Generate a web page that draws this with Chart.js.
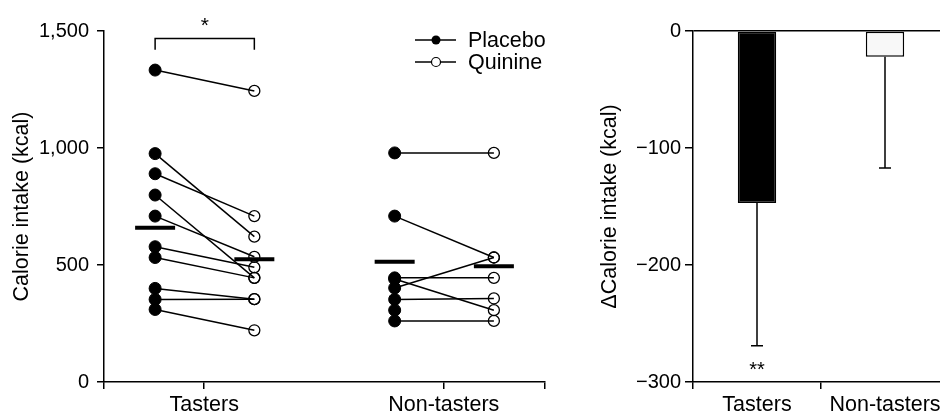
<!DOCTYPE html>
<html>
<head>
<meta charset="utf-8">
<script src="https://cdn.jsdelivr.net/npm/chart.js@4/dist/chart.umd.min.js"></script>
<style>
  html, body { margin: 0; padding: 0; background: #fff; overflow: hidden; }
  #left { position: absolute; left: 0; top: 0; width: 569px; height: 414px; }
  #right { position: absolute; left: 560px; top: 0; width: 400px; height: 414px; }
</style>
</head>
<body>
<div id="left"><canvas id="intakeChart"></canvas></div>
<div id="right"><canvas id="deltaChart"></canvas></div>
<script>
// data
const groups = ['Tasters', 'Non-tasters'];
const conditions = ['Placebo', 'Quinine'];
const tasterPlacebo = [1333, 976, 890, 799, 709, 578, 532, 400, 353, 310];
const tasterQuinine = [1244, 621, 709, 445, 535, 490, 445, 354, 354, 221];
const nonTasterPlacebo = [979, 709, 445, 440, 402, 353, 307, 261];
const nonTasterQuinine = [979, 532, 445, 307, 532, 357, null, 261];
const placeboMeans = [659, 514];
const quinineMeans = [525, 495];
const deltaMeans = [-147, -22];
const deltaErrors = [122, 95];
const intakeTicks = [0, 500, 1000, 1500];
const deltaTicks = [0, -100, -200, -300];

const FONT = '"Liberation Sans", Arial, sans-serif';
Chart.defaults.font.family = FONT;
Chart.defaults.font.size = 20;
Chart.defaults.color = '#000';
const LW = 1.5;

// x layout of the left panel (group centres, offsets of the two conditions)
const groupX = [1, 3.39];
const shift = [-0.49, 0.5];
const xMax = 4.4;

const subjectSets = [];
[[tasterPlacebo, tasterQuinine], [nonTasterPlacebo, nonTasterQuinine]].forEach(([p, q], g) => {
  p.forEach((v, i) => {
    if (q[i] === null) return;
    subjectSets.push({
      data: [{ x: groupX[g] + shift[0], y: v }, { x: groupX[g] + shift[1], y: q[i] }],
      showLine: true,
      borderColor: '#000',
      borderWidth: LW,
      pointRadius: 0,
      order: 3
    });
  });
});

const placeboPts = [];
const quininePts = [];
tasterPlacebo.forEach(v => placeboPts.push({ x: groupX[0] + shift[0], y: v }));
nonTasterPlacebo.forEach(v => placeboPts.push({ x: groupX[1] + shift[0], y: v }));
tasterQuinine.forEach(v => { if (v !== null) quininePts.push({ x: groupX[0] + shift[1], y: v }); });
nonTasterQuinine.forEach(v => { if (v !== null) quininePts.push({ x: groupX[1] + shift[1], y: v }); });

const meanPts = [];
groups.forEach((g, i) => {
  meanPts.push({ x: groupX[i] + shift[0], y: placeboMeans[i] });
  meanPts.push({ x: groupX[i] + shift[1], y: quinineMeans[i] });
});

const leftExtras = {
  id: 'leftExtras',
  afterDraw(chart) {
    const { ctx, scales: { x, y } } = chart;
    ctx.save();
    ctx.strokeStyle = '#000';
    ctx.fillStyle = '#000';
    ctx.lineWidth = LW;
    // significance bracket
    const x0 = x.getPixelForValue(groupX[0] + shift[0]);
    const x1 = x.getPixelForValue(groupX[0] + shift[1]);
    const yTop = y.getPixelForValue(1468);
    const yEnd = y.getPixelForValue(1420);
    ctx.beginPath();
    ctx.moveTo(x0, yEnd); ctx.lineTo(x0, yTop); ctx.lineTo(x1, yTop); ctx.lineTo(x1, yEnd);
    ctx.stroke();
    ctx.font = '21px ' + FONT;
    ctx.textAlign = 'center';
    ctx.textBaseline = 'alphabetic';
    ctx.fillText('*', (x0 + x1) / 2, yTop - 6);
    // legend
    ctx.font = '21.5px ' + FONT;
    ctx.textAlign = 'left';
    ctx.textBaseline = 'middle';
    conditions.forEach((c, i) => {
      const ly = 40 + i * 22;
      ctx.beginPath();
      ctx.moveTo(415, ly); ctx.lineTo(456, ly);
      ctx.stroke();
      ctx.beginPath();
      ctx.arc(436, ly, 4.5, 0, Math.PI * 2);
      if (i === 0) { ctx.fill(); } else { ctx.fillStyle = '#fff'; ctx.fill(); ctx.fillStyle = '#000'; ctx.lineWidth = 1.2; ctx.stroke(); ctx.lineWidth = LW; }
      ctx.fillText(c, 468, ly + 1);
    });
    ctx.restore();
  }
};

new Chart(document.getElementById('intakeChart'), {
  type: 'scatter',
  data: {
    datasets: [
      ...subjectSets,
      { data: placeboPts, pointRadius: 6, backgroundColor: '#000', borderColor: '#000', borderWidth: 1, order: 1 },
      { data: quininePts, pointRadius: 5.5, backgroundColor: 'rgba(0,0,0,0)', borderColor: '#000', borderWidth: 1.3, order: 1 },
      { data: meanPts, pointStyle: 'line', pointRadius: 20, borderColor: '#000', borderWidth: 4, order: 0 }
    ]
  },
  options: {
    responsive: true,
    maintainAspectRatio: false,
    animation: false,
    events: [],
    layout: { padding: { top: 31, right: 0, left: 0, bottom: 0 } },
    plugins: { legend: { display: false }, tooltip: { enabled: false } },
    scales: {
      x: {
        type: 'linear',
        min: 0,
        max: xMax,
        afterBuildTicks: s => { s.ticks = [0, groupX[0], groupX[1], xMax].map(v => ({ value: v })); },
        ticks: {
          autoSkip: false,
          maxRotation: 0,
          padding: 3,
          font: { size: 21.5 },
          callback: (v, i) => ['', groups[0], groups[1], ''][i]
        },
        grid: { drawOnChartArea: false, tickLength: 7, color: '#000', lineWidth: LW },
        border: { color: '#000', width: LW },
        afterFit: s => { s.height = 32; }
      },
      y: {
        min: 0,
        max: 1500,
        afterBuildTicks: s => { s.ticks = intakeTicks.map(v => ({ value: v })); },
        ticks: { padding: 8, callback: v => v.toLocaleString('en-US') },
        grid: { drawOnChartArea: false, tickLength: 7, color: '#000', lineWidth: LW },
        border: { color: '#000', width: LW },
        title: { display: true, text: 'Calorie intake (kcal)', font: { size: 21.5 }, padding: { top: 9, bottom: 0 } },
        afterFit: s => { s.width = 104; }
      }
    }
  },
  plugins: [leftExtras]
});

const errorBars = {
  id: 'errorBars',
  afterDatasetsDraw(chart) {
    const { ctx, scales: { x, y } } = chart;
    ctx.save();
    ctx.strokeStyle = '#000';
    ctx.fillStyle = '#000';
    ctx.lineWidth = LW;
    deltaMeans.forEach((m, i) => {
      const px = x.getPixelForValue(i);
      const y0 = y.getPixelForValue(m);
      const y1 = y.getPixelForValue(m - deltaErrors[i]);
      ctx.beginPath();
      ctx.moveTo(px, y0); ctx.lineTo(px, y1);
      ctx.moveTo(px - 6, y1); ctx.lineTo(px + 6, y1);
      ctx.stroke();
    });
    ctx.font = '20px ' + FONT;
    ctx.textAlign = 'center';
    ctx.textBaseline = 'alphabetic';
    ctx.fillText('**', x.getPixelForValue(0), y.getPixelForValue(deltaMeans[0] - deltaErrors[0]) + 30);
    ctx.restore();
  }
};

new Chart(document.getElementById('deltaChart'), {
  type: 'bar',
  data: {
    labels: groups,
    datasets: [{
      data: deltaMeans,
      backgroundColor: ['#000', '#f8f8f8'],
      borderColor: '#000',
      borderWidth: LW,
      borderSkipped: false,
      barPercentage: 0.3,
      categoryPercentage: 1
    }]
  },
  options: {
    responsive: true,
    maintainAspectRatio: false,
    animation: false,
    events: [],
    layout: { padding: { top: 31, right: 11, left: 0, bottom: 0 } },
    plugins: { legend: { display: false }, tooltip: { enabled: false } },
    scales: {
      x: {
        offset: true,
        ticks: { padding: 3, maxRotation: 0, font: { size: 21.5 } },
        grid: { offset: true, drawOnChartArea: false, tickLength: 7, color: '#000', lineWidth: LW },
        border: { color: '#000', width: LW },
        afterFit: s => { s.height = 32; }
      },
      y: {
        min: -300,
        max: 0,
        afterBuildTicks: s => { s.ticks = deltaTicks.map(v => ({ value: v })); },
        ticks: { padding: 4, callback: v => (v < 0 ? '\u2212' + Math.abs(v) : String(v)) },
        grid: {
          color: c => (c.tick && c.tick.value === 0 ? '#000' : 'rgba(0,0,0,0)'),
          tickColor: '#000',
          tickLength: 8,
          lineWidth: LW
        },
        border: { color: '#000', width: LW },
        title: { display: true, text: '\u0394Calorie intake (kcal)', font: { size: 21.5 }, padding: { top: 37, bottom: 0 } },
        afterFit: s => { s.width = 133; }
      }
    }
  },
  plugins: [errorBars]
});
</script>
</body>
</html>
